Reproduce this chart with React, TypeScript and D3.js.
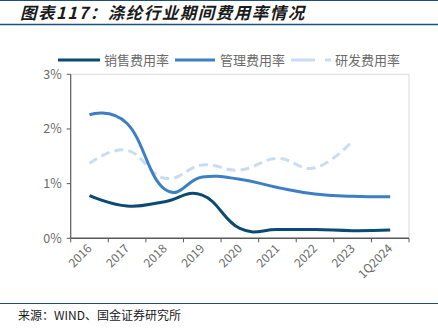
import React from "react";
import * as d3 from "d3";

const categories = ["2016", "2017", "2018", "2019", "2020", "2021", "2022", "2023", "1Q2024"];
const salesRate = [0.78, 0.59, 0.67, 0.79, 0.18, 0.16, 0.16, 0.14, 0.15];
const mgmtRate = [2.26, 2.1, 0.9, 1.12, 1.08, 0.93, 0.81, 0.77, 0.76];
const rdRate: (number | null)[] = [1.37, 1.61, 1.1, 1.34, 1.25, 1.46, 1.29, 1.78, null];
const yTicks = [0, 1, 2, 3];

const seriesNames = ["销售费用率", "管理费用率", "研发费用率"];
const colors = ["#0b4a73", "#3d7fc4", "#c8ddf1"];

const W = 438, H = 331;
const left = 70.7, right = 409, top = 74.3, bottom = 238.3;

export default function App() {
  const x = d3.scaleBand<string>().domain(categories).range([left, right]).padding(0);
  const y = d3.scaleLinear().domain([0, 3]).range([bottom, top]);
  const cx = (c: string) => (x(c) as number) + x.bandwidth() / 2;

  const line = d3
    .line<[string, number | null]>()
    .defined((d) => d[1] != null)
    .x((d) => cx(d[0]))
    .y((d) => y(d[1] as number))
    .curve(d3.curveCardinal.tension(-0.3));

  const data = [salesRate, mgmtRate, rdRate].map((s) => categories.map((c, i) => [c, s[i]] as [string, number | null]));
  const font = "'Noto Sans CJK SC', 'Noto Sans', sans-serif";

  const boundaries = categories.map((c) => x(c) as number).concat([right]);

  return (
    <svg width={W} height={H} style={{ position: "absolute", left: 0, top: 0, background: "#fff" }}>
      {/* header lines */}
      <line x1={0} x2={W} y1={0.5} y2={0.5} stroke="#1f4e79" strokeWidth={1} />
      <text x={20} y={19} fontFamily={font} fontSize={16.5} fontWeight="bold" fontStyle="italic" fill="#1a1a1a" letterSpacing={1.5}>
        图表117：涤纶行业期间费用率情况
      </text>
      <line x1={0} x2={W} y1={24.5} y2={24.5} stroke="#1f4e79" strokeWidth={1.5} />

      {/* legend */}
      <g fontFamily={font} fontSize={13} fill="#6b6b6b">
        <line x1={58} x2={100} y1={60} y2={60} stroke={colors[0]} strokeWidth={3} />
        <text x={104} y={64.5}>{seriesNames[0]}</text>
        <line x1={175} x2={215} y1={60} y2={60} stroke={colors[1]} strokeWidth={3} />
        <text x={220} y={64.5}>{seriesNames[1]}</text>
        <line x1={291} x2={331} y1={60} y2={60} stroke={colors[2]} strokeWidth={3} strokeDasharray="24,10,6,0" />
        <text x={335} y={64.5}>{seriesNames[2]}</text>
      </g>

      {/* plot border */}
      <line x1={left} x2={right} y1={top} y2={top} stroke="#d9d9d9" strokeWidth={1} />
      <line x1={right} x2={right} y1={top} y2={bottom} stroke="#d9d9d9" strokeWidth={1} />

      {/* y axis */}
      <line x1={left} x2={left} y1={top} y2={bottom} stroke="#595959" strokeWidth={1.2} />
      {yTicks.map((t) => (
        <g key={t}>
          <line x1={left - 4} x2={left} y1={y(t)} y2={y(t)} stroke="#595959" strokeWidth={1} />
          <text x={left - 9} y={y(t) + 4.5} textAnchor="end" fontFamily={font} fontSize={12.5} fill="#6b6b6b">
            {t}%
          </text>
        </g>
      ))}

      {/* x axis */}
      <line x1={left} x2={right} y1={bottom} y2={bottom} stroke="#595959" strokeWidth={1.5} />
      {boundaries.map((b, i) => (
        <line key={i} x1={b} x2={b} y1={bottom} y2={bottom + 4} stroke="#595959" strokeWidth={1} />
      ))}
      {categories.map((c) => (
        <text
          key={c}
          transform={`translate(${cx(c) + 3},${bottom + 11}) rotate(-45)`}
          textAnchor="end"
          fontFamily={font}
          fontSize={12}
          fill="#6b6b6b"
        >
          {c}
        </text>
      ))}

      {/* lines */}
      <path d={line(data[2]) || ""} fill="none" stroke={colors[2]} strokeWidth={3} strokeDasharray="9,5" />
      <path d={line(data[1]) || ""} fill="none" stroke={colors[1]} strokeWidth={3} />
      <path d={line(data[0]) || ""} fill="none" stroke={colors[0]} strokeWidth={3} />

      {/* footer */}
      <line x1={0} x2={W} y1={303.5} y2={303.5} stroke="#1f4e79" strokeWidth={1} />
      <text x={18} y={320} fontFamily={font} fontSize={12} fill="#1a1a1a">
        来源：WIND、国金证券研究所
      </text>
    </svg>
  );
}
